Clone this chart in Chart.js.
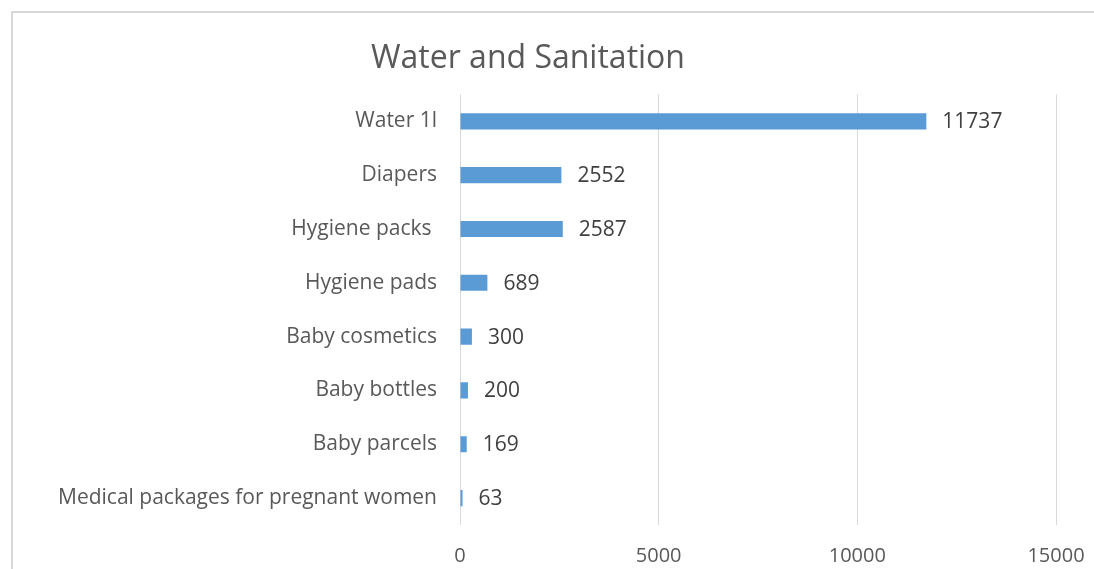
<!DOCTYPE html>
<html>
<head>
<meta charset="utf-8">
<script src="https://cdn.jsdelivr.net/npm/chart.js@4.4.0/dist/chart.umd.min.js"></script>
<style>
    html, body { margin: 0; padding: 0; background: #fff; overflow: hidden; }
    #frame { position: absolute; left: 11px; top: 11px; width: 1200px; height: 700px;
             border-left: 2px solid #d9d9d9; border-top: 2px solid #d9d9d9; }
    #wrap { position: absolute; left: 0; top: 0; width: 1094px; height: 569px; }
</style>
</head>
<body>
<div id="frame"></div>
<div id="wrap"><canvas id="grafico"></canvas></div>
<script>
'use strict';

// datos del grafico
var categorias = ['Water 1l', 'Diapers', 'Hygiene packs ', 'Hygiene pads', 'Baby cosmetics',
                  'Baby bottles', 'Baby parcels', 'Medical packages for pregnant women'];
var valores = [11737, 2552, 2587, 689, 300, 200, 169, 63];
var ticksX = [0, 5000, 10000, 15000];
var titulo = 'Water and Sanitation';

var fuente = '"Open Sans", "DejaVu Sans", sans-serif';

// etiquetas de datos al final de cada barra
var etiquetas = {
    id: 'etiquetas',
    afterDatasetsDraw: function (chart) {
        var ctx = chart.ctx;
        var meta = chart.getDatasetMeta(0);
        ctx.save();
        ctx.font = '21px ' + fuente;
        ctx.fillStyle = '#404040';
        ctx.textAlign = 'left';
        ctx.textBaseline = 'middle';
        meta.data.forEach(function (bar, i) {
            ctx.fillText(String(valores[i]), bar.x + 16, bar.y + 1);
        });
        ctx.restore();
    }
};

new Chart(document.getElementById('grafico'), {
    type: 'bar',
    data: {
        labels: categorias,
        datasets: [{
            data: valores,
            backgroundColor: '#5b9bd5',
            borderWidth: 0,
            categoryPercentage: 1,
            barPercentage: 0.3
        }]
    },
    options: {
        indexAxis: 'y',
        responsive: true,
        maintainAspectRatio: false,
        animation: false,
        layout: { padding: { left: 0, right: 38, top: 0, bottom: 0 } },
        plugins: {
            legend: { display: false },
            tooltip: { enabled: false },
            title: {
                display: true,
                text: titulo,
                color: '#595959',
                font: { family: fuente, size: 32, weight: 'normal' },
                padding: { top: 40, bottom: 16 }
            }
        },
        scales: {
            x: {
                min: 0,
                max: 15000,
                afterBuildTicks: function (scale) {
                    scale.ticks = ticksX.map(function (v) { return { value: v }; });
                },
                grid: { color: '#d9d9d9', lineWidth: 1, drawTicks: false },
                border: { display: false },
                ticks: {
                    color: '#595959',
                    font: { family: fuente, size: 20 },
                    padding: 19,
                    maxRotation: 0,
                    callback: function (v) { return String(v); }
                },
                afterFit: function (scale) {
                    scale.height = 44;
                    scale.paddingRight = 0;
                }
            },
            y: {
                grid: { display: false, drawTicks: false },
                border: { display: false },
                ticks: {
                    color: '#595959',
                    font: { family: fuente, size: 21 },
                    padding: 23,
                    autoSkip: false
                },
                afterFit: function (scale) { scale.width = 460; }
            }
        }
    },
    plugins: [etiquetas]
});
</script>
</body>
</html>
